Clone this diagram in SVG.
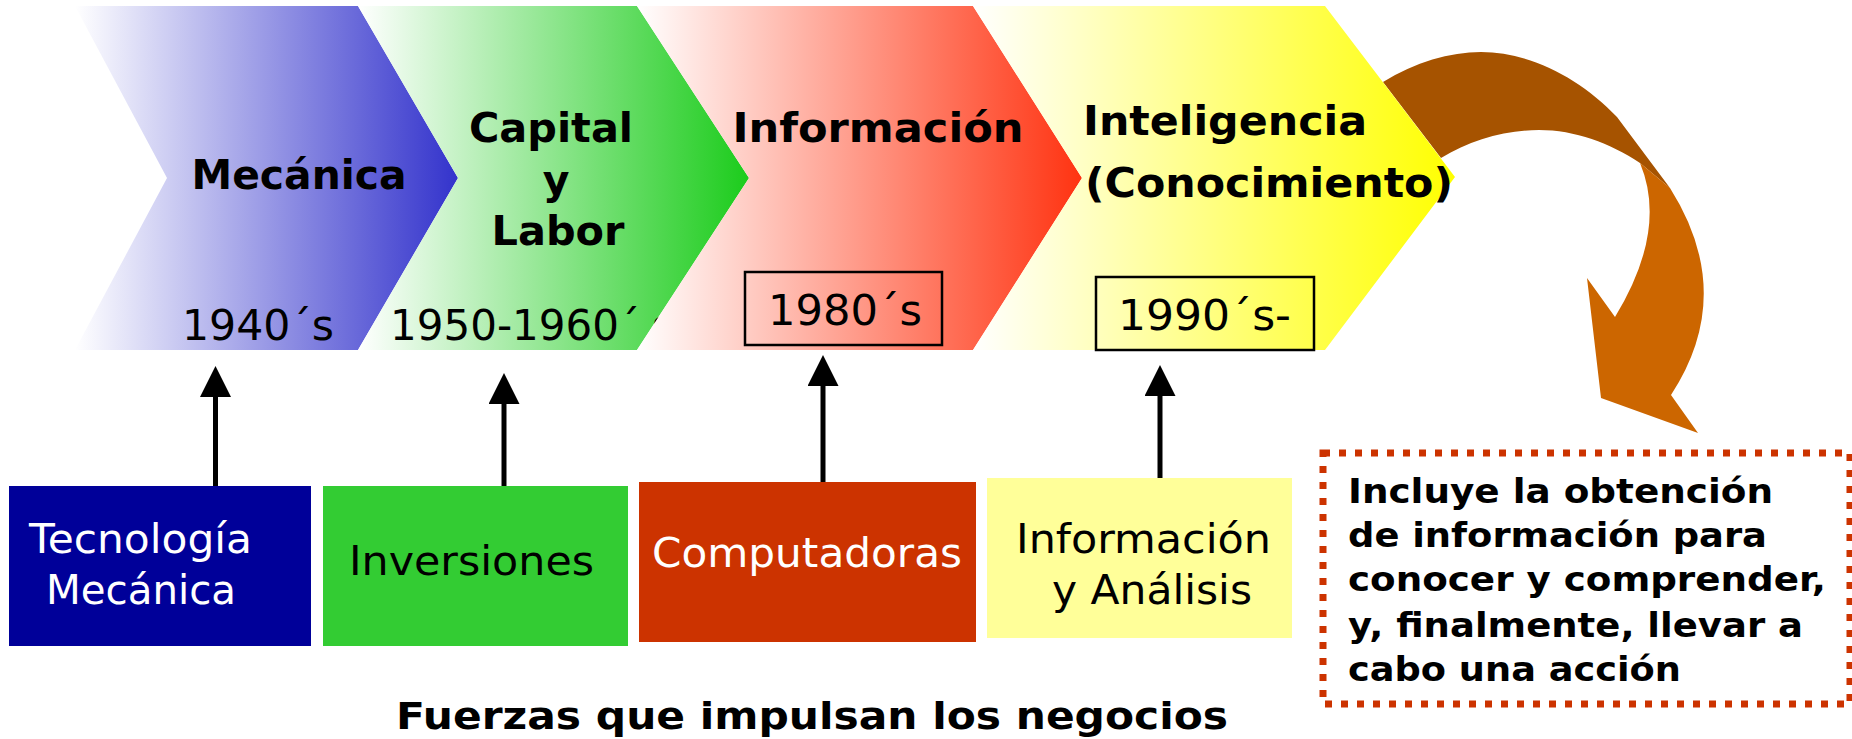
<svg xmlns="http://www.w3.org/2000/svg" width="1852" height="739" viewBox="0 0 1852 739">
<defs>
<linearGradient id="gBlue" gradientUnits="userSpaceOnUse" x1="75" y1="0" x2="458" y2="0"><stop offset="0" stop-color="#ffffff"/><stop offset="1" stop-color="#3333cc"/></linearGradient>
<linearGradient id="gGreen" gradientUnits="userSpaceOnUse" x1="358" y1="0" x2="749" y2="0"><stop offset="0" stop-color="#ffffff"/><stop offset="1" stop-color="#1ccc1c"/></linearGradient>
<linearGradient id="gRed" gradientUnits="userSpaceOnUse" x1="637" y1="0" x2="1082" y2="0"><stop offset="0" stop-color="#ffffff"/><stop offset="1" stop-color="#ff3311"/></linearGradient>
<linearGradient id="gYellow" gradientUnits="userSpaceOnUse" x1="973" y1="0" x2="1455" y2="0"><stop offset="0" stop-color="#ffffff"/><stop offset="1" stop-color="#ffff00"/></linearGradient>
<marker id="head" viewBox="0 0 31 31" markerWidth="31" markerHeight="31" markerUnits="userSpaceOnUse" refX="0" refY="15.5" orient="auto"><path d="M0,0 L31,15.5 L0,31 Z" fill="#000"/></marker>
<style>
.t{font-family:"DejaVu Sans","Verdana",sans-serif;}
.b{font-weight:bold;}
.title{font-size:41px;font-weight:bold;fill:#000;}
.year{font-size:42px;fill:#000;}
.lab{font-size:41px;}
.yr{fill:none;stroke:#000;stroke-width:2.5;}
.conn{stroke:#000;stroke-width:5;fill:none;marker-end:url(#head);}
.note{font-size:34px;font-weight:bold;fill:#000;}
</style>
</defs>

<g id="chev-mecanica">
<polygon points="75,6 358,6 458,178 358,350 75,350 167,178" fill="url(#gBlue)"/>
<text class="t title" x="299" y="189" text-anchor="middle" textLength="215" lengthAdjust="spacingAndGlyphs">Mecánica</text>
<text class="t year" x="182" y="340" textLength="152" lengthAdjust="spacingAndGlyphs">1940´s</text>
</g>

<g id="chev-capital">
<polygon points="358,6 637,6 749,178 637,350 358,350 458,178" fill="url(#gGreen)"/>
<text class="t title" x="551" y="142" text-anchor="middle" textLength="164" lengthAdjust="spacingAndGlyphs">Capital</text>
<text class="t title" x="556" y="194" text-anchor="middle">y</text>
<text class="t title" x="558" y="245" text-anchor="middle" textLength="133" lengthAdjust="spacingAndGlyphs">Labor</text>
<text class="t year" x="390" y="340">1950-1960´<tspan x="652">s</tspan></text>
</g>

<g id="chev-informacion">
<polygon points="637,6 973,6 1082,178 973,350 637,350 749,178" fill="url(#gRed)"/>
<text class="t title" x="878" y="142" text-anchor="middle" textLength="291" lengthAdjust="spacingAndGlyphs">Información</text>
<rect class="yr" x="745" y="272" width="197" height="73"/>
<text class="t year" x="768" y="325" textLength="154" lengthAdjust="spacingAndGlyphs">1980´s</text>
</g>

<g id="curved-arrow">
<path d="M1383,82 C1415,62 1450,52 1481,52 C1530,52 1580,78 1617,117 L1670,188 L1640,163 C1610,143 1575,130 1539,130 C1505,130 1470,140 1441,158 Z" fill="#a65300"/>
<path d="M1640,163 L1670,188 Q1737,294 1671,395 L1698,433 L1601,398 L1587,278 L1615,317 Q1668,230 1640,163 Z" fill="#cc6600"/>
</g>

<g id="chev-inteligencia">
<polygon points="973,6 1325,6 1455,177 1325,350 973,350 1082,178" fill="url(#gYellow)"/>
<text class="t title" x="1083" y="135" textLength="284" lengthAdjust="spacingAndGlyphs">Inteligencia</text>
<text class="t title" x="1085" y="197" textLength="368" lengthAdjust="spacingAndGlyphs">(Conocimiento)</text>
<rect class="yr" x="1096" y="277" width="218" height="73"/>
<text class="t year" x="1118" y="330" textLength="173" lengthAdjust="spacingAndGlyphs">1990´s-</text>
</g>

<g id="connectors">
<line class="conn" x1="215.5" y1="486" x2="215.5" y2="397"/>
<line class="conn" x1="504" y1="486" x2="504" y2="404"/>
<line class="conn" x1="823" y1="482" x2="823" y2="386"/>
<line class="conn" x1="1160" y1="478" x2="1160" y2="396"/>
</g>

<g id="box-tecnologia">
<rect x="9" y="486" width="302" height="160" fill="#000099"/>
<text class="t lab" x="140.5" y="553" text-anchor="middle" fill="#fff" textLength="223" lengthAdjust="spacingAndGlyphs">Tecnología</text>
<text class="t lab" x="141" y="604" text-anchor="middle" fill="#fff" textLength="190" lengthAdjust="spacingAndGlyphs">Mecánica</text>
</g>

<g id="box-inversiones">
<rect x="323" y="486" width="305" height="160" fill="#33cc33"/>
<text class="t lab" x="471.5" y="575" text-anchor="middle" fill="#000" textLength="245" lengthAdjust="spacingAndGlyphs">Inversiones</text>
</g>

<g id="box-computadoras">
<rect x="639" y="482" width="337" height="160" fill="#cc3300"/>
<text class="t lab" x="807" y="567" text-anchor="middle" fill="#fff" textLength="310" lengthAdjust="spacingAndGlyphs">Computadoras</text>
</g>

<g id="box-informacion">
<rect x="987" y="478" width="305" height="160" fill="#ffff99"/>
<text class="t lab" x="1143.5" y="553" text-anchor="middle" fill="#000" textLength="255" lengthAdjust="spacingAndGlyphs">Información</text>
<text class="t lab" x="1152" y="604" text-anchor="middle" fill="#000" textLength="200" lengthAdjust="spacingAndGlyphs">y Análisis</text>
</g>

<g id="note-box">
<rect x="1323" y="453" width="527" height="251" fill="none" stroke="#cc3300" stroke-width="7" stroke-dasharray="7 9"/>
<text class="t note" x="1348" y="503" textLength="425" lengthAdjust="spacingAndGlyphs">Incluye la obtención</text>
<text class="t note" x="1348" y="547" textLength="419" lengthAdjust="spacingAndGlyphs">de información para</text>
<text class="t note" x="1348" y="591" textLength="478" lengthAdjust="spacingAndGlyphs">conocer y comprender,</text>
<text class="t note" x="1348" y="637" textLength="455" lengthAdjust="spacingAndGlyphs">y, finalmente, llevar a</text>
<text class="t note" x="1348" y="681" textLength="333" lengthAdjust="spacingAndGlyphs">cabo una acción</text>
</g>

<g id="caption">
<text class="t b" x="396" y="729" font-size="38" fill="#000" textLength="832" lengthAdjust="spacingAndGlyphs">Fuerzas que impulsan los negocios</text>
</g>
</svg>
